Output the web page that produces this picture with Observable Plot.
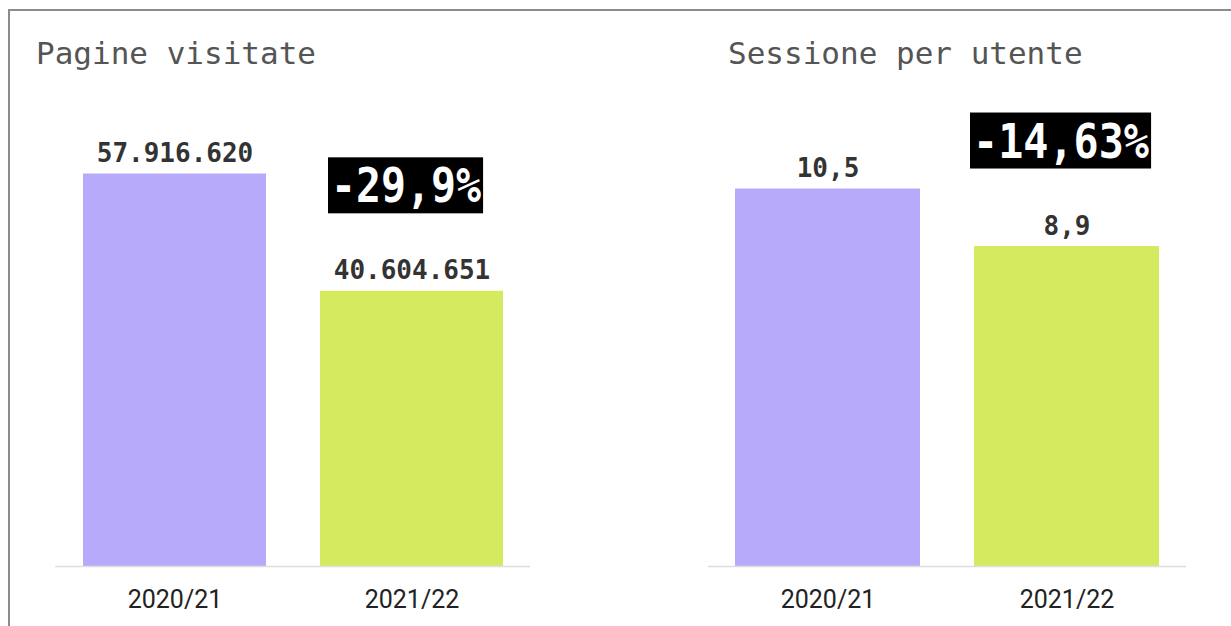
<!DOCTYPE html>
<html>
<head>
<meta charset="utf-8">
<script src="https://cdn.jsdelivr.net/npm/d3@7"></script>
<script src="https://cdn.jsdelivr.net/npm/@observablehq/plot@0.6"></script>
<style>
  html, body { margin: 0; padding: 0; background: #fff; }
  #page { position: relative; width: 1231px; height: 626px; overflow: hidden; background: #fff; }
  #frame { position: absolute; left: 8px; top: 9px; right: -10px; bottom: -10px;
           border-top: 2px solid #8c8c8c; border-left: 2px solid #8c8c8c; }
  .title { position: absolute; top: 33px; height: 40px; line-height: 40px;
           font-family: "DejaVu Sans Mono", monospace; font-size: 31px; color: #555; white-space: nowrap; }
  .chart { position: absolute; top: 80px; }
</style>
</head>
<body>
<div id="page">
  <div id="frame"></div>
  <div class="title" id="t1" style="left:36px"></div>
  <div class="title" id="t2" style="left:728px"></div>
  <div class="chart" id="c1" style="left:0px"></div>
  <div class="chart" id="c2" style="left:653px"></div>
</div>
<script>
// ---- data ----
const seasons = ["2020/21", "2021/22"];
const pageViews = [57916620, 40604651];
const pageViewLabels = ["57.916.620", "40.604.651"];
const pageViewChange = "-29,9%";
const sessionsPerUser = [10.5, 8.9];
const sessionLabels = ["10,5", "8,9"];
const sessionChange = "-14,63%";
const titles = ["Pagine visitate", "Sessione per utente"];
const barColors = ["#b8aafb", "#d6ea60"];

document.getElementById("t1").textContent = titles[0];
document.getElementById("t2").textContent = titles[1];

function panel({values, labels, change, yMax, width, marginLeft, marginRight, changeWidth}) {
  const rows = seasons.map((s, i) => ({season: s, value: values[i], label: labels[i]}));
  const last = [rows[rows.length - 1]];
  const svg = Plot.plot({
    width,
    height: 546,
    marginTop: 20,
    marginBottom: 60,
    marginLeft,
    marginRight,
    style: {background: "transparent", overflow: "visible"},
    x: {domain: seasons, paddingInner: 0.228, paddingOuter: 0.114, label: null},
    y: {domain: [0, yMax], axis: null},
    color: {domain: seasons, range: barColors},
    marks: [
      Plot.barY(rows, {x: "season", y: "value", fill: "season"}),
      Plot.ruleY([0], {stroke: "#dddddd", strokeWidth: 1.5}),
      Plot.axisX({tickSize: 0, tickPadding: 24, fontSize: 25, fontFamily: "Roboto", fill: "#222", label: null}),
      Plot.text(rows, {x: "season", y: "value", text: "label", lineAnchor: "bottom", dy: -12,
        fontSize: 26, fontWeight: "bold", fontFamily: "DejaVu Sans Mono", fill: "#333"}),
      Plot.text(last, {x: "season", y: "value", text: () => change, lineAnchor: "bottom", dy: -89, dx: -6,
        fontSize: 48, fontWeight: "bold", fontFamily: "DejaVu Sans Mono", fill: "#fff",
        className: "change-badge"})
    ]
  });
  svg.dataset.changeWidth = changeWidth;
  return svg;
}

const c1 = panel({values: pageViews, labels: pageViewLabels, change: pageViewChange,
  yMax: 57916620 * 466 / 392.5, width: 615, marginLeft: 55, marginRight: 85, changeWidth: 150});
const c2 = panel({values: sessionsPerUser, labels: sessionLabels, change: sessionChange,
  yMax: 10.5 * 466 / 377.5, width: 578, marginLeft: 55, marginRight: 45, changeWidth: 176});
document.getElementById("c1").appendChild(c1);
document.getElementById("c2").appendChild(c2);

// black background boxes behind the change annotations
for (const svg of [c1, c2]) {
  const w = +svg.dataset.changeWidth;
  svg.querySelectorAll("g.change-badge text, .change-badge text").forEach(t => {
    t.setAttribute("textLength", w);
    t.setAttribute("lengthAdjust", "spacingAndGlyphs");
    const b = t.getBBox();
    const g = t.parentNode;
    const rect = document.createElementNS("http://www.w3.org/2000/svg", "rect");
    rect.setAttribute("x", b.x - 3);
    rect.setAttribute("y", b.y);
    rect.setAttribute("width", b.width + 5);
    rect.setAttribute("height", b.height);
    rect.setAttribute("fill", "#000");
    if (t.getAttribute("transform")) rect.setAttribute("transform", t.getAttribute("transform"));
    g.insertBefore(rect, t);
  });
}
</script>
</body>
</html>
